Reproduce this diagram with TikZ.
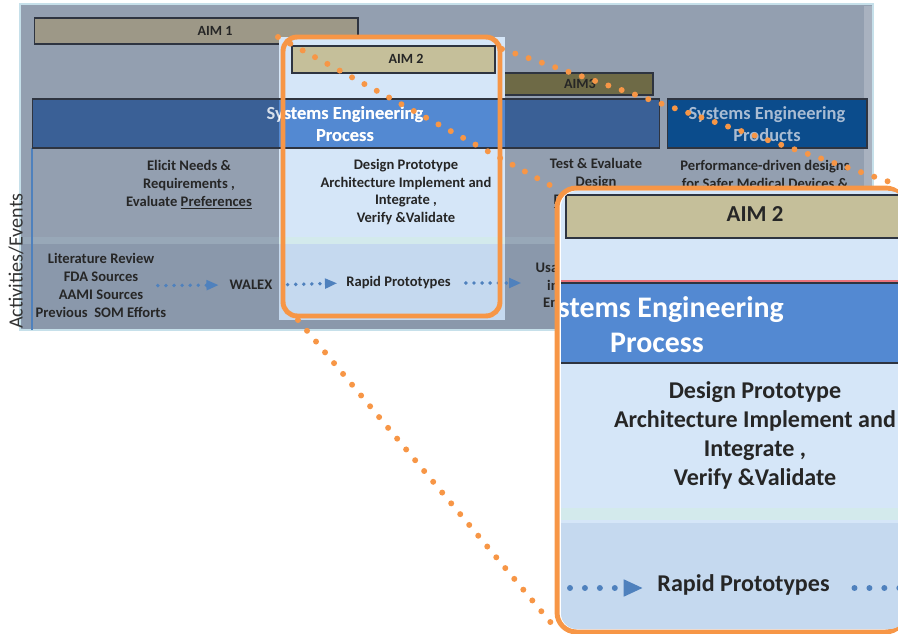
\documentclass[tikz,border=0pt]{standalone}
\usepackage{fontspec}
\setmainfont{Carlito}
\usetikzlibrary{positioning,arrows.meta}
\definecolor{panelgray}{HTML}{939FB0}
\definecolor{bandgray}{HTML}{8A98AB}
\definecolor{panelborder}{HTML}{C6E0EA}
\definecolor{aimone}{HTML}{9D9887}
\definecolor{aimtwo}{HTML}{C5BF9A}
\definecolor{aimthree}{HTML}{6E6A46}
\definecolor{sepdark}{HTML}{3A6096}
\definecolor{sepbright}{HTML}{5389D2}
\definecolor{proddark}{HTML}{0B4C8C}
\definecolor{prodtext}{HTML}{A9BCD3}
\definecolor{colbg}{HTML}{D5E6F8}
\definecolor{colband}{HTML}{C5D9EF}
\definecolor{colstrip}{HTML}{D3EAEC}
\definecolor{zoomorange}{HTML}{F79646}
\definecolor{arrowblue}{HTML}{4F81BD}
\definecolor{bardark}{HTML}{2E3440}
\tikzstyle{bar} = [rectangle, draw=bardark, line width=0.6pt, inner sep=0pt]
\tikzstyle{aimtext} = [inner sep=0pt, font=\bfseries\fontsize{8}{10}\selectfont, text=black!85]
\tikzstyle{bodytext} = [align=center, inner sep=0pt, font=\bfseries\fontsize{8.3}{10.2}\selectfont, text=black!85]
\tikzstyle{septext} = [align=center, inner sep=0pt, font=\bfseries\fontsize{10.5}{12.5}\selectfont]
\tikzstyle{bigtext} = [align=center, inner sep=0pt, font=\bfseries\fontsize{13.7}{16.4}\selectfont, text=black!85]
\tikzstyle{dotarrow} = [draw=arrowblue, line width=2.2pt, line cap=round, dash pattern=on 0pt off 4.6pt, -{Triangle[length=7pt,width=5.5pt]}]
\tikzstyle{bigdotarrow} = [draw=arrowblue, line width=3.4pt, line cap=round, dash pattern=on 0pt off 8.5pt, -{Triangle[length=11pt,width=9pt]}]
\tikzstyle{zoomline} = [draw=zoomorange, line width=3.4pt, line cap=round, dash pattern=on 0pt off 8pt]
\tikzstyle{zoomframe} = [rectangle, draw=zoomorange, line width=2.8pt, inner sep=0pt]
\begin{document}
\begin{tikzpicture}[x=0.02cm,y=-0.02cm]
\useasboundingbox (0,0) rectangle (898,634);
\node (panel) [rectangle, fill=panelgray, draw=panelborder, line width=1.2pt, minimum width=17.06cm, minimum height=6.52cm] at (446.5,167) {};
\fill[colstrip!20!bandgray] (21,237) rectangle (872,244);
\fill[bandgray] (21,244) rectangle (872,329);
\fill[panelgray!80!white] (864,6) rectangle (872,329);
\draw[arrowblue, line width=1pt] (32,148) -- (32,330);
\node (actlabel) [rotate=90, inner sep=0pt, font=\fontsize{11.5}{13}\selectfont, text=black!80] at (16,261) {Activities/Events};
\node (aim1bar) [bar, fill=aimone, minimum width=6.48cm, minimum height=0.52cm] at (196,31) {};
\node (aim1) [aimtext] at (215,31) {AIM 1};
\node (aim3bar) [bar, fill=aimthree, minimum width=3.12cm, minimum height=0.44cm] at (575,84) {};
\node (aim3) [aimtext] at (580,84) {AIM3};
\node (sepbar) [bar, fill=sepdark, minimum width=12.56cm, minimum height=0.98cm] at (346,123.5) {};
\node (prodbar) [bar, fill=proddark, minimum width=4cm, minimum height=0.98cm] at (767,123.5) {};
\node (prodtxt) [septext, text=prodtext] at (767,124) {Systems Engineering\\Products};
\node (elicit) [bodytext] at (189,185) {Elicit Needs \&\\Requirements ,\\Evaluate \underline{Preferences}};
\node (testeval) [bodytext] at (596,183.5) {Test \& Evaluate\\Design\\\underline{Performance} ,};
\node (perfdriven) [bodytext] at (765,174) {Performance-driven designs\\for Safer Medical Devices \&};
\node (lit) [bodytext] at (101,285.5) {Literature Review\\FDA Sources\\AAMI Sources\\Previous\ \ SOM Efforts};
\node (walex) [bodytext] at (251,285) {WALEX};
\begin{scope}
\clip (500,240) rectangle (556,330);
\node (usab) [bodytext] at (585,285) {Usability Testing\\in Simulated\\Environments};
\end{scope}
% highlighted column
\fill[colbg] (279,37) rectangle (505,320);
\fill[colstrip] (279,237) rectangle (505,244);
\fill[colband] (279,244) rectangle (505,320);
\fill[sepbright] (279,99) rectangle (505,148);
\draw[bardark, line width=0.6pt] (279,99) -- (505,99) (279,148) -- (505,148);
\node (aim2bar) [bar, fill=aimtwo, minimum width=4.06cm, minimum height=0.54cm] at (393.5,59.5) {};
\node (aim2) [aimtext] at (406,59) {AIM 2};
\node (septxt) [septext, text=white!80!sepdark] at (345,124) {Systems Engineering\\Process};
\begin{scope}
\clip (279,99) rectangle (505,148);
\node (septxtb) [septext, text=white] at (345,124) {Systems Engineering\\Process};
\end{scope}
\node (design) [bodytext] at (406,192) {Design Prototype\\Architecture Implement and\\Integrate ,\\Verify \&Validate};
\node (rapid) [bodytext] at (398.5,283) {Rapid Prototypes};
\draw[dotarrow, shorten <=-5pt, shorten >=6pt] (lit.east) -- (walex.west);
\draw[dotarrow, shorten <=8.5pt, shorten >=5pt] (walex.east) -- (rapid.west);
\draw[dotarrow, shorten <=8.5pt, shorten >=8pt] (rapid.east) -- (usab.west |- rapid.east);
\node (zoomsmall) [zoomframe, rounded corners=8pt, minimum width=4.34cm, minimum height=5.58cm] at (391.5,176.5) {};
% zoom lines
\coordinate (zsa) at (278,37);
\coordinate (zsb) at (502,49);
\coordinate (zsc) at (298,320);
\coordinate (zba) at (557,189);
\coordinate (zbb) at (910,189);
\coordinate (zbc) at (557,630);
\draw[zoomline] (zsa) -- (zba);
\draw[zoomline] (zsb) -- (zbb);
\draw[zoomline] (zsc) -- (zbc);
% zoomed view
\node (zoombig) [zoomframe, fill=white, rounded corners=11pt, minimum width=6.96cm, minimum height=8.88cm] at (731,410) {};
\begin{scope}
\clip[rounded corners=9pt] (561,191) rectangle (905,629);
\fill[colbg] (557,188) rectangle (905,632);
\fill[colstrip] (557,508) rectangle (905,520);
\fill[colband] (557,523) rectangle (905,632);
\node (bigaim2bar) [bar, fill=aimtwo, line width=1pt, minimum width=6.88cm, minimum height=0.86cm] at (738,216.5) {};
\node (bigaim2) [aimtext, font=\bfseries\fontsize{13}{15}\selectfont] at (755,214) {AIM 2};
\draw[red!50!colbg, line width=0.8pt] (557,281) -- (905,281);
\fill[sepbright] (557,283) rectangle (905,363);
\draw[bardark, line width=1pt] (557,283) -- (905,283) (557,363) -- (905,363);
\node (bigsep) [septext, text=white, font=\bfseries\fontsize{17}{19.8}\selectfont] at (657,324.5) {Systems Engineering\\Process};
\node (bigdesign) [bigtext] at (755,435.5) {Design Prototype\\Architecture Implement and\\Integrate ,\\Verify \&Validate};
\node (bigrapid) [bigtext] at (743.5,585) {Rapid Prototypes};
\coordinate (bigin) at (570,588);
\coordinate (bigout) at (912,588);
\draw[bigdotarrow, shorten >=8pt] (bigin) -- (bigin -| bigrapid.west);
\draw[bigdotarrow, -, shorten <=14pt] (bigout -| bigrapid.east) -- (bigout);
\end{scope}
\end{tikzpicture}
\end{document}
